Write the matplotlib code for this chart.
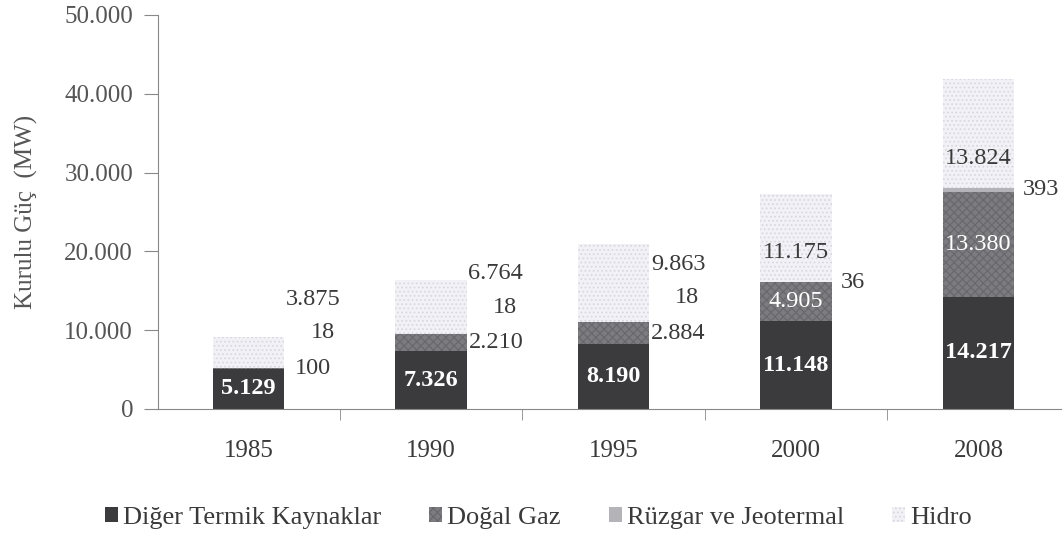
import matplotlib
matplotlib.use("Agg")
import matplotlib.pyplot as plt
import numpy as np

plt.rcParams['font.family'] = ['Liberation Serif', 'DejaVu Serif']
plt.rcParams['hatch.linewidth'] = 0.8

years = ['1985', '1990', '1995', '2000', '2008']
diger_termik = [5129, 7326, 8190, 11148, 14217]
dogal_gaz = [100, 2210, 2884, 4905, 13380]
ruzgar_jeo = [18, 18, 18, 36, 393]
hidro = [3875, 6764, 9863, 11175, 13824]

def fmt(v):
    return f"{v:,}".replace(",", ".")

fig = plt.figure(figsize=(10.62, 5.37), dpi=100)
ax = fig.add_axes([0.1488, 0.2384, 0.851, 0.7337])

x = np.arange(len(years))
w = 0.39
b1 = np.array(diger_termik)
b2 = b1 + np.array(dogal_gaz)
b3 = b2 + np.array(ruzgar_jeo)

ax.bar(x, diger_termik, w, color='#3b3b3d', linewidth=0, label='Diğer Termik Kaynaklar')
ax.bar(x, dogal_gaz, w, bottom=b1, color='#7c7c80', edgecolor='#68686c',
       hatch='xxxx', linewidth=0, label='Doğal Gaz')
ax.bar(x, ruzgar_jeo, w, bottom=b2, color='#b4b4b8', linewidth=0,
       label='Rüzgar ve Jeotermal')
ax.bar(x, hidro, w, bottom=b3, color='#f2f2f6', edgecolor='#d8d8e2',
       hatch='....', linewidth=0, label='Hidro')

txt = '#3a3a3a'
fs = 17.5
edge = w / 2 + 0.01
for i in range(len(years)):
    # dark segment, white bold
    ax.text(x[i], diger_termik[i] / 2, fmt(diger_termik[i]), ha='center', va='center',
            color='white', fontsize=fs, fontweight='bold')
    if i < 3:
        gy = b1[i] + dogal_gaz[i] / 2
        ax.text(x[i] + edge + (0.05 if i == 0 else 0), gy, fmt(dogal_gaz[i]),
                ha='left', va='center', color=txt, fontsize=fs)
        ax.text(x[i] + edge + 0.2, gy + 4500, fmt(ruzgar_jeo[i]), ha='center',
                va='center', color=txt, fontsize=fs)
        ax.text(x[i] + edge, gy + 8700, fmt(hidro[i]), ha='left', va='center',
                color=txt, fontsize=fs)
    else:
        ax.text(x[i], b1[i] + dogal_gaz[i] / 2, fmt(dogal_gaz[i]), ha='center',
                va='center', color='white', fontsize=fs)
        ax.text(x[i] + w / 2 + 0.05, b2[i] + ruzgar_jeo[i] / 2, fmt(ruzgar_jeo[i]),
                ha='left', va='center', color=txt, fontsize=fs)
        ax.text(x[i], b3[i] + 3800, fmt(hidro[i]), ha='center', va='center',
                color=txt, fontsize=fs)

ax.set_xlim(-0.496, 4.457)
ax.set_ylim(0, 50000)
ax.set_yticks(np.arange(0, 50001, 10000))
ax.set_yticklabels([fmt(v) for v in range(0, 50001, 10000)])
ax.set_xticks(x)
ax.set_xticklabels(years)
ax.set_xticks(np.arange(0.5, 4.5, 1), minor=True)
ax.tick_params(axis='x', which='major', length=0, pad=22, labelsize=18, labelcolor=txt)
ax.tick_params(axis='x', which='minor', length=8, direction='out', color='#888888')
ax.tick_params(axis='y', length=10, direction='out', color='#888888', pad=8,
               labelsize=18, labelcolor='#555555')

for s in ['top', 'right']:
    ax.spines[s].set_visible(False)
ax.spines['left'].set_color('#888888')
ax.spines['bottom'].set_color('#888888')

ax.set_ylabel('Kurulu Güç  (MW)', fontsize=18, color='#555555', labelpad=19)

fig.legend(loc='center', bbox_to_anchor=(0.507, 0.035), ncol=4, frameon=False,
           fontsize=19, handlelength=0.5, handleheight=0.5, handletextpad=0.2,
           columnspacing=1.8, labelcolor=txt)

fig.savefig('out.png', dpi=100)
